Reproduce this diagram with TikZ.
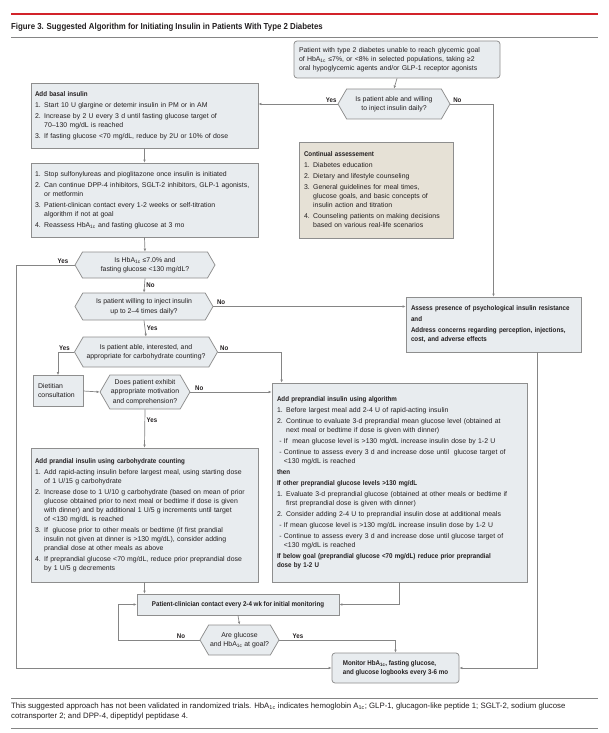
\documentclass[tikz,border=0pt]{standalone}
\usepackage{fontspec}
\setmainfont{Liberation Sans}
\newfontfamily\narrowbf{Liberation Sans}[FakeStretch=0.9]
\usetikzlibrary{shapes.symbols,arrows.meta}

\definecolor{boxfill}{HTML}{E8ECEF}
\definecolor{notefill}{HTML}{E6E1D6}
\definecolor{rim}{HTML}{8E8E8E}
\definecolor{wire}{HTML}{858585}
\definecolor{ink}{HTML}{231F20}
\definecolor{jamared}{HTML}{D2232A}

\begin{document}
\begin{tikzpicture}[x=1pt, y=-1pt,
    % Styles
    box/.style={draw=rim, fill=boxfill, line width=0.75pt, inner xsep=4pt, inner ysep=3pt,
                align=left, text=ink, font=\fontsize{6.9}{9}\selectfont},   % plain step
    note/.style={box, fill=notefill},                                      % side note
    ask/.style={signal, signal to=east and west, signal pointer angle=120, draw=rim,
                fill=boxfill, line width=0.75pt, align=center, text=ink, inner sep=1pt,
                font=\fontsize{6.9}{9.5}\selectfont},                      % question
    lbl/.style={text=ink, inner sep=1.5pt, font=\fontsize{6.8}{8}\narrowbf\bfseries},
    link/.style={draw=wire, line width=0.7pt, -{Latex[length=3pt,width=2.6pt]}}
]

  \fill[white] (0,0) rectangle (609,733);
  \useasboundingbox (0,0) rectangle (609,733);

  % Heading
  \draw[jamared, line width=1.3pt] (11,14) -- (598,14);
  \node[anchor=west, text=ink, inner sep=0pt, font=\fontsize{8.7}{10}\narrowbf\bfseries] (title) at (11,27)
    {Figure 3. Suggested Algorithm for Initiating Insulin in Patients With Type 2 Diabetes};
  \draw[wire, line width=0.8pt] (11,37) -- (598,37);

  % Right column, top
  \node[box, inner xsep=5pt, text width=196pt, minimum height=37pt, rounded corners=3pt] (start) at (397,59.5)
    {Patient with type 2 diabetes unable to reach glycemic goal\\
     of HbA\textsubscript{1c} ≤7\%, or <8\% in selected populations, taking ≥2\\
     oral hypoglycemic agents and/or GLP-1 receptor agonists};
  \node[ask, minimum width=112pt, minimum height=30pt] (able) at (394,104)
    {Is patient able and willing\\to inject insulin daily?};
  \node[note, inner xsep=5pt, text width=144pt, minimum height=96pt] (assessment) at (376,190)
    {{\narrowbf\bfseries Continual assessement}\\[2pt]
     1. Diabetes education\\[2pt]
     2. Dietary and lifestyle counseling\\[2pt]
     3. General guidelines for meal times,\\
     \phantom{3. }glucose goals, and basic concepts of\\
     \phantom{3. }insulin action and titration\\[2pt]
     4. Counseling patients on making decisions\\
     \phantom{4. }based on various real-life scenarios};
  \node[box, inner xsep=5pt, text width=165pt, minimum height=55pt] (resist) at (493.5,324.5)
    {{\narrowbf\bfseries Assess presence of psychological insulin resistance}\\[2pt]
     {\narrowbf\bfseries and}\\[2pt]
     {\narrowbf\bfseries Address concerns regarding perception, injections,}\\
     {\narrowbf\bfseries cost, and adverse effects}};

  % Left column
  \node[box, text width=219pt, minimum height=65pt] (basal) at (144.5,115.5)
    {{\narrowbf\bfseries Add basal insulin}\\[2pt]
     1. Start 10 U glargine or detemir insulin in PM or in AM\\[2pt]
     2. Increase by 2 U every 3 d until fasting glucose target of\\
     \phantom{2. }70–130 mg/dL is reached\\[2pt]
     3. If fasting glucose <70 mg/dL, reduce by 2U or 10\% of dose};
  \node[box, text width=219pt, minimum height=74pt] (stop) at (144.5,200)
    {1. Stop sulfonylureas and pioglitazone once insulin is initiated\\[2pt]
     2. Can continue DPP-4 inhibitors, SGLT-2 inhibitors, GLP-1 agonists,\\
     \phantom{2. }or metformin\\[2pt]
     3. Patient-clinican contact every 1-2 weeks or self-titration\\
     \phantom{3. }algorithm if not at goal\\[2pt]
     4. Reassess HbA\textsubscript{1c} and fasting glucose at 3 mo};
  \node[ask, minimum width=140pt, minimum height=26pt] (goal) at (145,265)
    {Is HbA\textsubscript{1c} ≤7.0\% and\\fasting glucose <130 mg/dL?};
  \node[ask, minimum width=138pt, minimum height=27pt] (daily) at (144,306.5)
    {Is patient willing to inject insulin\\up to 2–4 times daily?};
  \node[ask, minimum width=143pt, minimum height=30pt] (carbq) at (146,352)
    {Is patient able, interested, and\\appropriate for carbohydrate counting?};
  \node[box, inner xsep=5pt, text width=40pt, minimum height=31pt] (dietitian) at (58,391)
    {Dietitian\\consultation};
  \node[ask, minimum width=86pt, minimum height=34pt] (motiv) at (145,392)
    {Does patient exhibit\\appropriate motivation\\and comprehension?};
  \node[box, text width=219pt, minimum height=134pt] (carb) at (144.5,515)
    {{\narrowbf\bfseries Add prandial insulin using carbohydrate counting}\\[2pt]
     1. Add rapid-acting insulin before largest meal, using starting dose\\
     \phantom{1. }of 1 U/15 g carbohydrate\\[2pt]
     2. Increase dose to 1 U/10 g carbohydrate (based on mean of prior\\
     \phantom{2. }glucose obtained prior to next meal or bedtime if dose is given\\
     \phantom{2. }with dinner) and by additional 1 U/5 g increments until target\\
     \phantom{2. }of <130 mg/dL is reached\\[2pt]
     3. If \ glucose prior to other meals or bedtime (if first prandial\\
     \phantom{3. }insulin not given at dinner is >130 mg/dL), consider adding\\
     \phantom{3. }prandial dose at other meals as above\\[2pt]
     4. If preprandial glucose <70 mg/dL, reduce prior preprandial dose\\
     \phantom{4. }by 1 U/5 g decrements};

  % Middle column, lower part
  \node[box, inner xsep=5pt, text width=245pt, minimum height=199pt] (prep) at (399.5,482.5)
    {{\narrowbf\bfseries Add preprandial insulin using algorithm}\\[2pt]
     1. Before largest meal add 2-4 U of rapid-acting insulin\\[2pt]
     2. Continue to evaluate 3-d preprandial mean glucose level (obtained at\\
     \phantom{2. }next meal or bedtime if dose is given with dinner)\\[2pt]
     \ - If \ mean glucose level is >130 mg/dL increase insulin dose by 1-2 U\\[2pt]
     \ - Continue to assess every 3 d and increase dose until \ glucose target of\\
     \phantom{\ - }<130 mg/dL is reached\\[2pt]
     {\narrowbf\bfseries then}\\[2pt]
     {\narrowbf\bfseries If other preprandial glucose levels >130 mg/dL}\\[2pt]
     1. Evaluate 3-d preprandial glucose (obtained at other meals or bedtime if\\
     \phantom{1. }first preprandial dose is given with dinner)\\[2pt]
     2. Consider adding 2-4 U to preprandial insulin dose at additional meals\\[2pt]
     \ - If mean glucose level is >130 mg/dL increase insulin dose by 1-2 U\\[2pt]
     \ - Continue to assess every 3 d and increase dose until glucose target of\\
     \phantom{\ - }<130 mg/dL is reached\\[2pt]
     {\narrowbf\bfseries If below goal (preprandial glucose <70 mg/dL) reduce prior preprandial}\\
     {\narrowbf\bfseries dose by 1-2 U}};
  \node[box, align=center, minimum width=202pt, minimum height=21pt, font=\fontsize{6.9}{9}\narrowbf\bfseries] (contact) at (238,604.5)
    {Patient-clinician contact every 2-4 wk for initial monitoring};
  \node[ask, minimum width=79pt, minimum height=30pt] (atgoal) at (239.5,640)
    {Are glucose\\and HbA\textsubscript{1c} at goal?};
  \node[box, minimum width=127pt, minimum height=30pt, rounded corners=3pt, font=\fontsize{6.9}{9.5}\narrowbf\bfseries] (monitor) at (395.5,668)
    {Monitor HbA\textsubscript{1c}, fasting glucose,\\and glucose logbooks every 3-6 mo};

  % Connectors
  \draw[link] (start.south) -- (able.north);
  \draw[link] (able.west) -- node[lbl, above, pos=0.08] {Yes} (able.west -| basal.east);
  \draw[link] (able.east) -| node[lbl, above, pos=0.08] {No} (resist.north);
  \draw[link] (basal.south) -- (stop.north);
  \draw[link] (stop.south) -- (goal.north);
  \draw[link] (goal.west) -- node[lbl, above, pos=0.2] {Yes} ++(-58,0) |- (monitor.west);
  \draw[link] (goal.south) -- node[lbl, right] {No} (daily.north);
  \draw[link] (daily.east) -- node[lbl, above, pos=0.04] {No} (daily.east -| resist.west);
  \draw[link] (daily.south) -- node[lbl, right] {Yes} (carbq.north);
  \draw[link] (carbq.west) -| node[lbl, above, pos=0.3] {Yes} (dietitian.north);
  \draw[link] (carbq.east) -| node[lbl, above, pos=0.05] {No} ([xshift=10pt]prep.north west);
  \draw[link] (dietitian.east) -- (motiv.west);
  \draw[link] (motiv.east) -- node[lbl, above, pos=0.11] {No} (motiv.east -| prep.west);
  \draw[link] (motiv.south) -- node[lbl, right, pos=0.28] {Yes} (carb.north);
  \draw[link] (carb.south) -- (carb.south |- contact.north);
  \draw[link] (prep.south) |- (contact.east);
  \draw[link] (contact.south) -- (atgoal.north);
  \draw[link] (atgoal.west) -- node[lbl, above, pos=0.23] {No} ++(-81,0) |- (contact.west);
  \draw[link] (atgoal.east) -| node[lbl, above, pos=0.08] {Yes} (monitor.north);
  \draw[link] ([xshift=43.5pt]resist.south) |- (monitor.east);

  % Footnote
  \draw[wire, line width=1pt] (11,698) -- (598,698);
  \node[anchor=north west, align=left, text=ink, inner sep=0pt, font=\fontsize{7.8}{9.3}\selectfont] (footnote) at (11,703)
    {This suggested approach has not been validated in randomized trials. HbA\textsubscript{1c} indicates hemoglobin A\textsubscript{1c}; GLP-1, glucagon-like peptide 1; SGLT-2, sodium glucose\\
     cotransporter 2; and DPP-4, dipeptidyl peptidase 4.};
  \draw[wire, line width=1pt] (11,728) -- (598,728);

\end{tikzpicture}
\end{document}
